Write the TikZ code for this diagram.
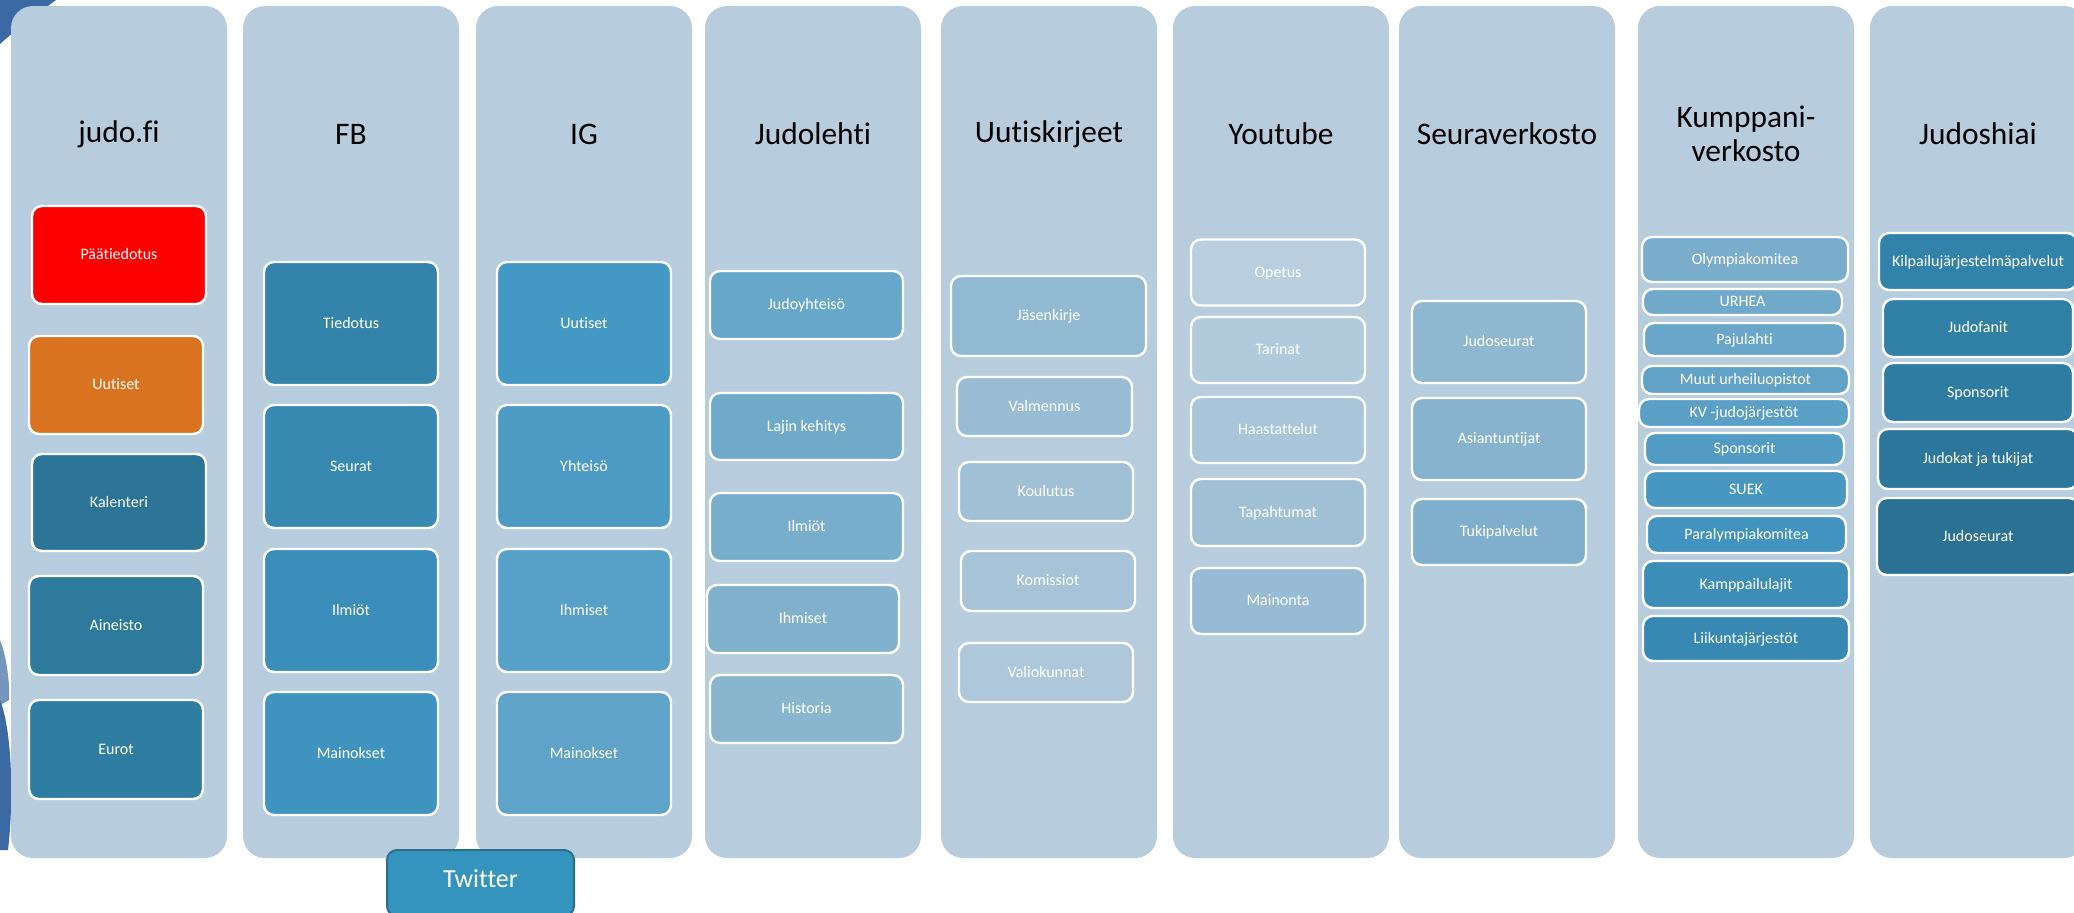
\documentclass[tikz,border=0pt]{standalone}
\usepackage{fontspec}
\setmainfont{Carlito}[RawFeature={-liga;-clig;-dlig}]
\definecolor{lanebg}{HTML}{B7CDDD}
\definecolor{swoosh}{HTML}{3B69A4}
\definecolor{twitterbg}{HTML}{3494BE}
\definecolor{twitterline}{HTML}{2B6F8F}
\begin{document}
\begin{tikzpicture}[
	x=0.5pt,
	y=-0.5pt,
	lane/.style={fill=lanebg, rounded corners=11pt, minimum width=108pt, minimum height=426pt, inner sep=0pt},
	title/.style={font=\fontsize{15.7}{17}\selectfont, text=black, align=center, inner sep=0pt},
	cell/.style n args={4}{/utils/exec={\definecolor{cellfill}{HTML}{#1}}, fill=cellfill,
		draw=white, line width=1.2pt, rounded corners=5pt, inner sep=0pt,
		minimum width=#2*0.5pt, minimum height=#3*0.5pt,
		text=white, font=\fontsize{8}{9.6}\selectfont, text height=0.68em, text depth=0.2em},
	]
	\useasboundingbox (0,0) rectangle (2074,912);
	\fill[white] (0,0) rectangle (2074,912);
	% swooshes of the slide background
	\fill[swoosh] (0,0) -- (56,0) .. controls (40,12) and (20,26) .. (0,44) -- cycle;
	\fill[swoosh!70] (0,640) .. controls (8,660) and (10,690) .. (9,700) -- (0,705) -- cycle;
	\fill[swoosh] (0,700) .. controls (12,730) and (14,800) .. (8,850) -- (0,850) -- cycle;

	\node[lane] (lane-judo) at (119,432) {};
	\node[lane] (lane-fb) at (351,432) {};
	\node[lane] (lane-ig) at (584,432) {};
	\node[lane] (lane-lehti) at (813,432) {};
	\node[lane] (lane-uutis) at (1049,432) {};
	\node[lane] (lane-yt) at (1281,432) {};
	\node[lane] (lane-seura) at (1507,432) {};
	\node[lane] (lane-kump) at (1746,432) {};
	\node[lane] (lane-shiai) at (1978,432) {};

	\node[title] (title-judo) at (119,134) {judo.fi};
	\node[title] (title-fb) at (351,134) {FB};
	\node[title] (title-ig) at (584,134) {IG};
	\node[title] (title-lehti) at (813,134) {Judolehti};
	\node[title] (title-uutis) at (1049,134) {Uutiskirjeet};
	\node[title] (title-yt) at (1281,134) {Youtube};
	\node[title] (title-seura) at (1507,134) {Seuraverkosto};
	\node[title] (title-kump) at (1746,134) {Kumppani-\\verkosto};
	\node[title] (title-shiai) at (1978,134) {Judoshiai};

	\begin{scope}
		\node[cell={FF0000}{174}{98}] (judo-paa) at (119,255) {Päätiedotus};
		\node[cell={D9731F}{174}{98}] (judo-uut) at (116,385) {Uutiset};
		\node[cell={2C7596}{174}{97}] (judo-kal) at (119,502.5) {Kalenteri};
		\node[cell={2D7A9C}{174}{99}] (judo-ain) at (116,625.5) {Aineisto};
		\node[cell={2F7EA2}{174}{99}] (judo-eur) at (116,749.5) {Eurot};
	\end{scope}

	\begin{scope}
		\node[cell={3383AB}{174}{123}] (fb-tied) at (351,323.5) {Tiedotus};
		\node[cell={3789B2}{174}{123}] (fb-seur) at (351,466.5) {Seurat};
		\node[cell={3B8EB9}{174}{123}] (fb-ilmi) at (351,610.5) {Ilmiöt};
		\node[cell={3F93BF}{174}{123}] (fb-main) at (351,753.5) {Mainokset};
	\end{scope}

	\begin{scope}
		\node[cell={4498C4}{174}{123}] (ig-uut) at (584,323.5) {Uutiset};
		\node[cell={4D9BC5}{174}{123}] (ig-yht) at (584,466.5) {Yhteisö};
		\node[cell={57A0C7}{174}{123}] (ig-ihm) at (584,610.5) {Ihmiset};
		\node[cell={60A3C8}{174}{123}] (ig-main) at (584,753.5) {Mainokset};
	\end{scope}

	\begin{scope}
		\node[cell={67A7CA}{193}{68}] (lehti-yht) at (806.5,305) {Judoyhteisö};
		\node[cell={70AACB}{193}{67}] (lehti-laji) at (806.5,426.5) {Lajin kehitys};
		\node[cell={78AECC}{193}{68}] (lehti-ilmi) at (806.5,527) {Ilmiöt};
		\node[cell={81B1CD}{192}{68}] (lehti-ihm) at (803,619) {Ihmiset};
		\node[cell={89B5CF}{193}{68}] (lehti-hist) at (806.5,709) {Historia};
	\end{scope}

	\begin{scope}
		\node[cell={91B9D2}{195}{80}] (uutis-jas) at (1048.5,316) {Jäsenkirje};
		\node[cell={98BCD4}{175}{59}] (uutis-valm) at (1044.5,406.5) {Valmennus};
		\node[cell={A0C0D6}{174}{59}] (uutis-koul) at (1046,491.5) {Koulutus};
		\node[cell={A7C3D8}{174}{60}] (uutis-kom) at (1048,581) {Komissiot};
		\node[cell={AEC7DA}{174}{59}] (uutis-val) at (1046,672.5) {Valiokunnat};
	\end{scope}

	\begin{scope}
		\node[cell={B9CFE0}{174}{66}] (yt-ope) at (1278,272.5) {Opetus};
		\node[cell={B1CADC}{174}{66}] (yt-tar) at (1278,350) {Tarinat};
		\node[cell={A8C5D9}{174}{66}] (yt-haas) at (1278,430) {Haastattelut};
		\node[cell={A0C0D6}{174}{67}] (yt-tap) at (1278,512.5) {Tapahtumat};
		\node[cell={97BBD4}{174}{66}] (yt-main) at (1278,601) {Mainonta};
	\end{scope}

	\begin{scope}
		\node[cell={8FB7D0}{174}{82}] (seura-seur) at (1499,342) {Judoseurat};
		\node[cell={88B3CE}{174}{82}] (seura-asi) at (1499,439) {Asiantuntijat};
		\node[cell={7FAFCD}{174}{66}] (seura-tuki) at (1499,532) {Tukipalvelut};
	\end{scope}

	\begin{scope}
		\node[cell={79ADCB}{206}{45}] (kump-olym) at (1745,259.5) {Olympiakomitea};
		\node[cell={71A9CA}{199}{26}] (kump-urhea) at (1742.5,302) {URHEA};
		\node[cell={6AA6C9}{201}{33}] (kump-paju) at (1744.5,339.5) {Pajulahti};
		\node[cell={62A2C7}{207}{28}] (kump-muut) at (1745.5,380) {Muut urheiluopistot};
		\node[cell={5A9FC6}{210}{28}] (kump-kv) at (1744,413) {KV -judojärjestöt};
		\node[cell={529BC4}{199}{32}] (kump-spon) at (1744.5,449) {Sponsorit};
		\node[cell={4897C2}{202}{37}] (kump-suek) at (1746,489.5) {SUEK};
		\node[cell={4293BF}{199}{37}] (kump-para) at (1746.5,534.5) {Paralympiakomitea};
		\node[cell={3C8EB9}{206}{47}] (kump-kamp) at (1746,584.5) {Kamppailulajit};
		\node[cell={3789B3}{206}{45}] (kump-liik) at (1746,638.5) {Liikuntajärjestöt};
	\end{scope}

	\begin{scope}
		\node[cell={3283AB}{198}{57}] (shiai-kilp) at (1978,261.5) {Kilpailujärjestelmäpalvelut};
		\node[cell={3080A6}{190}{58}] (shiai-fan) at (1978,328) {Judofanit};
		\node[cell={2E7CA1}{190}{59}] (shiai-spon) at (1978,392.5) {Sponsorit};
		\node[cell={2C779B}{200}{60}] (shiai-judokat) at (1978,459) {Judokat ja tukijat};
		\node[cell={2A7194}{202}{77}] (shiai-seur) at (1978,536.5) {Judoseurat};
	\end{scope}

	\node[fill=twitterbg, draw=twitterline, line width=1pt, rounded corners=5pt, inner sep=0pt,
		minimum width=93.5pt, minimum height=33pt, text=white, font=\fontsize{13}{15}\selectfont,
		text height=0.68em, text depth=0.2em] (twitter) at (480.5,883) {Twitter};
\end{tikzpicture}
\end{document}
